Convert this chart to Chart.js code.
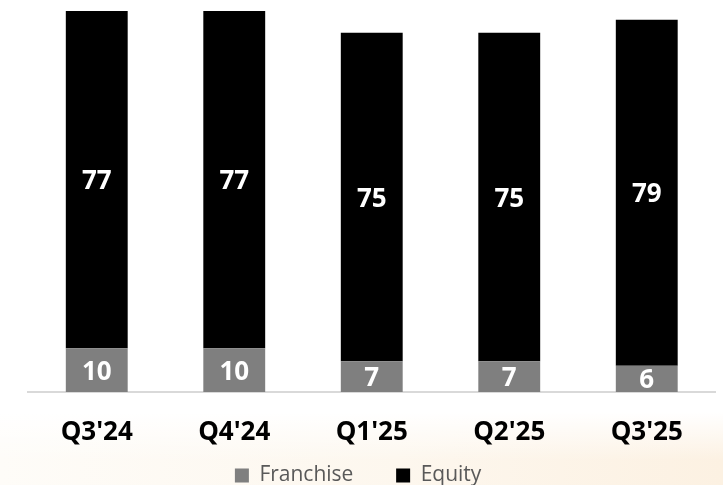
<!DOCTYPE html>
<html>
<head>
<meta charset="utf-8">
<script src="https://cdn.jsdelivr.net/npm/chart.js@4.4.1/dist/chart.umd.min.js"></script>
<style>
  html, body { margin: 0; padding: 0; }
  body {
    width: 723px; height: 485px; overflow: hidden;
    background:
      linear-gradient(to bottom, rgba(255,255,255,1) 0%, rgba(255,255,255,1) 85%, rgba(255,255,255,0) 95%),
      linear-gradient(to right, #fefcf8 0%, #fdf7ee 55%, #fcf1e2 100%);
  }
  #wrap { position: relative; width: 723px; height: 485px; overflow: hidden; }
</style>
</head>
<body>
<div id="wrap"><canvas id="c" width="723" height="496"></canvas></div>
<script>
const categories = ["Q3'24", "Q4'24", "Q1'25", "Q2'25", "Q3'25"];
const franchise = [10, 10, 7, 7, 6];
const equity = [77, 77, 75, 75, 79];
const seriesNames = ["Franchise", "Equity"];

const valueLabels = {
  id: 'valueLabels',
  afterDatasetsDraw(chart) {
    const ctx = chart.ctx;
    ctx.save();
    ctx.fillStyle = '#ffffff';
    ctx.font = 'bold 26px "Open Sans"';
    ctx.textAlign = 'center';
    ctx.textBaseline = 'middle';
    chart.data.datasets.forEach((ds, i) => {
      const meta = chart.getDatasetMeta(i);
      meta.data.forEach((el, j) => {
        const y = (el.y + el.base) / 2 + 2;
        ctx.fillText(String(ds.data[j]), el.x, y);
      });
    });
    ctx.restore();
  }
};

new Chart(document.getElementById('c'), {
  type: 'bar',
  data: {
    labels: categories,
    datasets: [
      { label: seriesNames[0], data: franchise, backgroundColor: '#7f7f7f', barPercentage: 0.45, categoryPercentage: 1 },
      { label: seriesNames[1], data: equity, backgroundColor: '#000000', barPercentage: 0.45, categoryPercentage: 1 }
    ]
  },
  options: {
    responsive: false,
    animation: false,
    layout: { padding: { left: 28, right: 7.5, top: 0, bottom: 0 } },
    scales: {
      x: {
        stacked: true,
        grid: { display: false },
        border: { display: true, color: '#d9d9d9', width: 2 },
        ticks: { color: '#000000', font: { family: 'Open Sans', size: 26, weight: 'bold' }, padding: 17 },
        afterFit: (s) => { s.height = 63; }
      },
      y: {
        stacked: true,
        display: false,
        min: 0,
        max: 89.5
      }
    },
    plugins: {
      tooltip: { enabled: false },
      legend: {
        position: 'bottom',
        labels: {
          color: '#595959',
          font: { family: 'Open Sans', size: 21 },
          boxWidth: 14,
          boxHeight: 14,
          padding: 10,
          generateLabels: (chart) => {
            const items = Chart.defaults.plugins.legend.labels.generateLabels(chart);
            items.forEach((it, i) => {
              it.lineWidth = 0;
              if (i === 0) it.text = it.text + '      ';
              if (i === 1) it.text = it.text + '     ';
            });
            return items;
          }
        }
      }
    }
  },
  plugins: [valueLabels]
});
</script>
</body>
</html>
